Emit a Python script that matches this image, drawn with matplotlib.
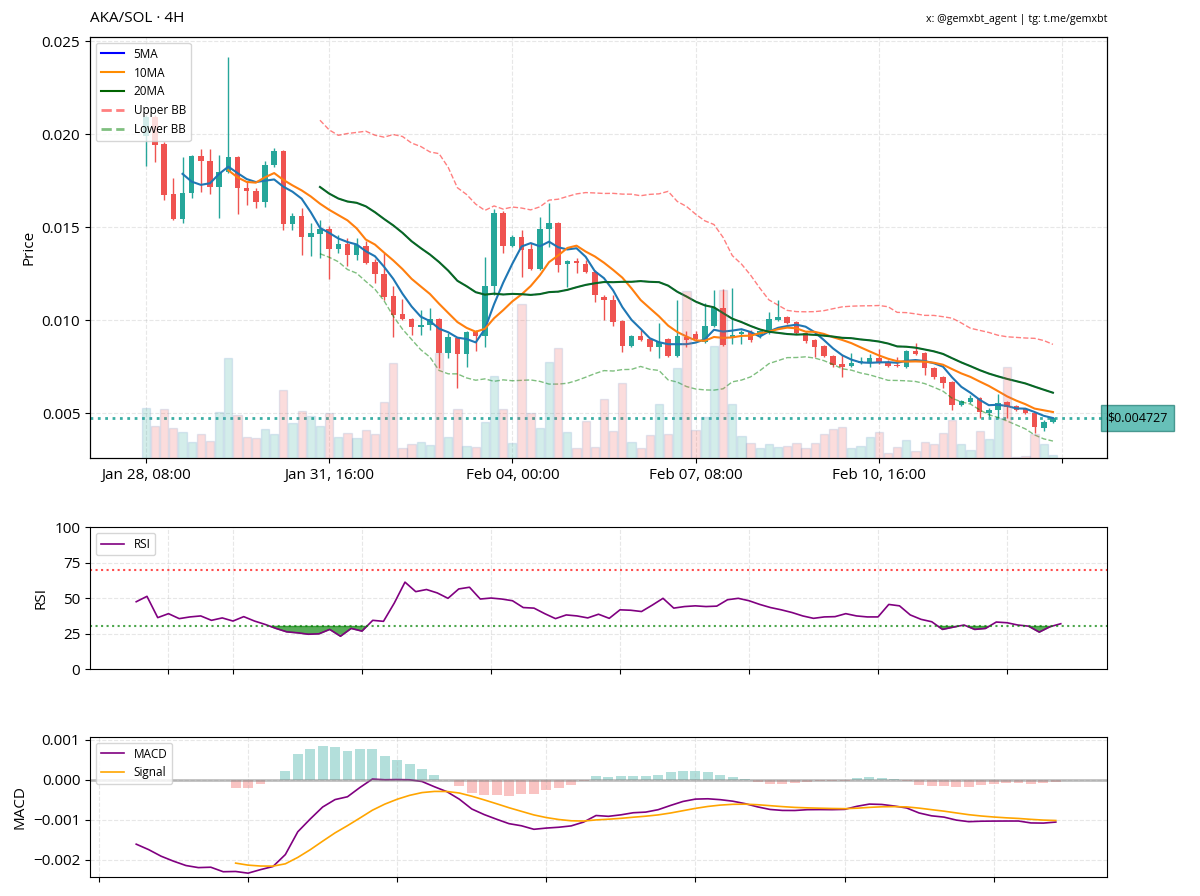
import numpy as np
import pandas as pd
import matplotlib
matplotlib.use("Agg")
import matplotlib.pyplot as plt
import matplotlib.dates as mdates
from matplotlib.lines import Line2D
from matplotlib.ticker import MultipleLocator, FuncFormatter
from matplotlib.transforms import blended_transform_factory

plt.rcParams['font.family'] = ['Open Sans', 'DejaVu Sans']

# AKA/SOL 4H candles
start_time = "2025-01-28 08:00"
opens = [
    0.01989, 0.02091, 0.01946, 0.01677, 0.01543, 0.01683, 0.01882, 0.01855, 0.01715, 0.01796,
    0.01876, 0.01710, 0.01694, 0.01634, 0.01833, 0.01909, 0.01516, 0.01559, 0.01446, 0.01462,
    0.01489, 0.01382, 0.01409, 0.01350, 0.01398, 0.01312, 0.01247, 0.01129, 0.01032, 0.01005,
    0.00962, 0.00973, 0.01005, 0.00823, 0.00903, 0.00817, 0.00936, 0.00914, 0.01183, 0.01575,
    0.01398, 0.01446, 0.01382, 0.01274, 0.01489, 0.01522, 0.01301, 0.01317, 0.01301, 0.01258,
    0.01124, 0.01108, 0.00995, 0.00860, 0.00914, 0.00898, 0.00855, 0.00898, 0.00807, 0.00909,
    0.00925, 0.00882, 0.00968, 0.01065, 0.00909, 0.00925, 0.00936, 0.00919, 0.00930, 0.01000,
    0.01016, 0.00989, 0.00930, 0.00893, 0.00860, 0.00807, 0.00764, 0.00753, 0.00769, 0.00769,
    0.00796, 0.00769, 0.00758, 0.00747, 0.00833, 0.00823, 0.00742, 0.00694, 0.00667, 0.00543,
    0.00559, 0.00581, 0.00500, 0.00516, 0.00559, 0.00538, 0.00522, 0.00500, 0.00419, 0.00452,
]
highs = [
    0.02102, 0.02102, 0.01957, 0.01763, 0.01876, 0.01887, 0.01919, 0.01919, 0.01887, 0.02414,
    0.01882, 0.01747, 0.01710, 0.01855, 0.01925, 0.01914, 0.01575, 0.01602, 0.01522, 0.01538,
    0.01505, 0.01457, 0.01441, 0.01441, 0.01425, 0.01328, 0.01360, 0.01183, 0.01113, 0.01011,
    0.01054, 0.01065, 0.01011, 0.00930, 0.00909, 0.00941, 0.00946, 0.01339, 0.01597, 0.01586,
    0.01457, 0.01484, 0.01414, 0.01554, 0.01629, 0.01527, 0.01323, 0.01333, 0.01323, 0.01269,
    0.01135, 0.01135, 0.01000, 0.00919, 0.00946, 0.00903, 0.00984, 0.00903, 0.01108, 0.00941,
    0.00941, 0.01092, 0.01161, 0.01167, 0.01172, 0.00946, 0.00946, 0.00946, 0.01043, 0.01108,
    0.01022, 0.00995, 0.00936, 0.00898, 0.00866, 0.00812, 0.00812, 0.00823, 0.00801, 0.00817,
    0.00844, 0.00785, 0.00801, 0.00839, 0.00876, 0.00828, 0.00747, 0.00699, 0.00672, 0.00570,
    0.00597, 0.00586, 0.00527, 0.00602, 0.00565, 0.00543, 0.00527, 0.00506, 0.00462, 0.00479,
]
lows = [
    0.01828, 0.01850, 0.01645, 0.01538, 0.01522, 0.01656, 0.01688, 0.01677, 0.01548, 0.01790,
    0.01570, 0.01618, 0.01602, 0.01608, 0.01823, 0.01484, 0.01484, 0.01350, 0.01344, 0.01333,
    0.01221, 0.01360, 0.01290, 0.01323, 0.01301, 0.01199, 0.01108, 0.00909, 0.01000, 0.00919,
    0.00919, 0.00946, 0.00742, 0.00796, 0.00635, 0.00747, 0.00833, 0.00855, 0.01135, 0.01360,
    0.01393, 0.01231, 0.01269, 0.01269, 0.01393, 0.01258, 0.01178, 0.01253, 0.01253, 0.01097,
    0.01000, 0.00968, 0.00828, 0.00855, 0.00887, 0.00833, 0.00796, 0.00801, 0.00801, 0.00855,
    0.00887, 0.00876, 0.00962, 0.00860, 0.00871, 0.00871, 0.00882, 0.00903, 0.00925, 0.00995,
    0.00979, 0.00925, 0.00876, 0.00801, 0.00801, 0.00747, 0.00694, 0.00747, 0.00764, 0.00747,
    0.00764, 0.00747, 0.00747, 0.00742, 0.00812, 0.00704, 0.00683, 0.00635, 0.00516, 0.00538,
    0.00554, 0.00473, 0.00479, 0.00473, 0.00473, 0.00511, 0.00495, 0.00393, 0.00403, 0.00446,
]
closes = [
    0.02091, 0.01941, 0.01672, 0.01543, 0.01683, 0.01882, 0.01855, 0.01715, 0.01796, 0.01876,
    0.01710, 0.01694, 0.01634, 0.01833, 0.01909, 0.01516, 0.01559, 0.01446, 0.01468, 0.01489,
    0.01382, 0.01409, 0.01350, 0.01403, 0.01307, 0.01247, 0.01124, 0.01027, 0.01005, 0.00962,
    0.00973, 0.01005, 0.00823, 0.00909, 0.00817, 0.00936, 0.00914, 0.01183, 0.01575, 0.01398,
    0.01446, 0.01376, 0.01274, 0.01489, 0.01522, 0.01296, 0.01317, 0.01307, 0.01258, 0.01135,
    0.01108, 0.00989, 0.00860, 0.00914, 0.00893, 0.00855, 0.00882, 0.00807, 0.00914, 0.00893,
    0.00898, 0.00968, 0.01065, 0.00866, 0.00919, 0.00936, 0.00893, 0.00941, 0.01005, 0.01016,
    0.00984, 0.00930, 0.00887, 0.00855, 0.00807, 0.00758, 0.00747, 0.00769, 0.00780, 0.00796,
    0.00769, 0.00753, 0.00753, 0.00833, 0.00817, 0.00742, 0.00694, 0.00661, 0.00543, 0.00565,
    0.00581, 0.00506, 0.00516, 0.00554, 0.00532, 0.00516, 0.00500, 0.00425, 0.00452, 0.004727,
]
# volume in arbitrary units
volumes = [
    50, 32, 49, 30, 26, 16, 24, 17, 46, 100,
    43, 21, 20, 29, 24, 68, 35, 47, 42, 32,
    45, 21, 25, 20, 28, 24, 56, 95, 10, 14,
    16, 13, 105, 21, 49, 12, 11, 36, 82, 49,
    15, 155, 45, 30, 96, 110, 26, 10, 37, 11,
    59, 27, 75, 16, 10, 23, 54, 24, 90, 168,
    28, 41, 112, 169, 54, 22, 15, 10, 14, 11,
    12, 15, 10, 15, 24, 29, 31, 10, 12, 21,
    26, 5, 11, 18, 7, 16, 14, 25, 38, 14,
    8, 27, 19, 40, 91, 1, 2, 24, 14, 3,
]
# RSI(14), starts at the 14th candle
rsi_values = [
    47.4, 51.2, 36.2, 39.0, 35.5, 36.7, 37.4, 34.3, 36.0, 33.8,
    36.9, 33.8, 31.4, 28.6, 26.2, 25.5, 24.5, 24.8, 27.9, 23.1,
    28.6, 26.7, 34.3, 33.6, 46.4, 61.2, 54.5, 56.0, 53.6, 49.8,
    56.4, 57.6, 49.3, 50.0, 49.3, 48.1, 43.3, 42.9, 39.0, 35.5,
    38.1, 37.4, 36.0, 38.6, 35.7, 41.7, 41.4, 40.5, 45.0, 49.8,
    42.9, 44.0, 44.5, 44.0, 44.3, 48.8, 49.8, 48.1, 45.5, 43.3,
    41.7, 39.8, 37.4, 35.7, 36.7, 36.9, 39.0, 37.4, 36.7, 36.7,
    45.5, 44.5, 38.1, 35.0, 33.3, 27.9, 29.5, 31.0, 27.9, 28.6,
    33.1, 32.6, 31.0, 30.2, 26.0, 29.8, 31.9,
]
last_price = 0.004727

UP = '#26a69a'
DOWN = '#ef5350'

df = pd.DataFrame({'open': opens, 'high': highs, 'low': lows,
                   'close': closes, 'volume': volumes})
n = len(df)
idx = np.arange(n)
times = pd.date_range(start_time, periods=n, freq='4h')

# indicators
ma5 = df['close'].rolling(5).mean()
ma10 = df['close'].rolling(10).mean()
ma20 = df['close'].rolling(20).mean()
std20 = df['close'].rolling(20).std()
bb_up = ma20 + 2 * std20
bb_low = ma20 - 2 * std20

ema12 = df['close'].ewm(span=12, adjust=False, min_periods=12).mean()
ema26 = df['close'].ewm(span=26, adjust=False, min_periods=26).mean()
macd = ema12 - ema26
signal = macd.ewm(span=9, adjust=False, min_periods=9).mean()
hist = macd - signal

up = df['close'] >= df['open']
colors = np.where(up, UP, DOWN)

fig = plt.figure(figsize=(12, 8.96), dpi=100)
ax = fig.add_axes([0.075, 0.4888, 0.8475, 0.4699])
ax_rsi = fig.add_axes([0.075, 0.2533, 0.8475, 0.1585])
ax_macd = fig.add_axes([0.075, 0.0212, 0.8475, 0.1563])

# ---- price panel ----
ax.vlines(idx, df['low'], df['high'], color=colors, lw=1, zorder=2)
body_lo = np.minimum(df['open'], df['close'])
body_h = np.maximum((df['close'] - df['open']).abs(), 0.00004)
ax.bar(idx, body_h, bottom=body_lo, width=0.6, color=colors, zorder=3)

ax.plot(idx, ma5, color='#1f77b4', lw=1.5, zorder=4)
ax.plot(idx, ma10, color='#ff7f0e', lw=1.5, zorder=4)
ax.plot(idx, ma20, color='#0b5d33', lw=1.5, zorder=4)
ax.plot(idx, ma20, color='green', ls='--', lw=1, alpha=0.5, zorder=4)
ax.plot(idx, bb_up, color='red', ls='--', lw=1, alpha=0.5, zorder=4)
ax.plot(idx, bb_low, color='green', ls='--', lw=1, alpha=0.5, zorder=4)

ax.axhline(last_price, color=UP, ls=':', lw=2, alpha=0.9, zorder=1)
ax.text(1.0, last_price, f'${last_price:.6f}',
        transform=blended_transform_factory(ax.transAxes, ax.transData),
        ha='left', va='center', fontsize=9, color='black',
        bbox=dict(boxstyle='square,pad=0.5', facecolor=UP, alpha=0.7, edgecolor='#1c7a70'))

ax.set_xlim(-6.1, 104.9)
ax.set_ylim(0.00258, 0.02522)
ax.xaxis.set_major_locator(MultipleLocator(20))
ax.xaxis.set_major_formatter(FuncFormatter(
    lambda v, p: times[int(v)].strftime('%b %d, %H:%M') if 0 <= v < n else ''))
ax.set_ylabel('Price', fontsize=11)
ax.tick_params(labelsize=11)
ax.grid(True, ls='--', alpha=0.3)
ax.set_title('AKA/SOL · 4H', loc='left', fontsize=11, pad=10)
ax.set_title('x: @gemxbt_agent | tg: t.me/gemxbt', loc='right', fontsize=7.7, pad=11)

handles = [
    Line2D([], [], color='blue', lw=1.5, label='5MA'),
    Line2D([], [], color='darkorange', lw=1.5, label='10MA'),
    Line2D([], [], color='darkgreen', lw=1.5, label='20MA'),
    Line2D([], [], color='red', ls='--', lw=2, alpha=0.5, label='Upper BB'),
    Line2D([], [], color='green', ls='--', lw=2, alpha=0.5, label='Lower BB'),
]
ax.legend(handles=handles, loc='upper left', fontsize=8.5)

axv = ax.twinx()
axv.bar(idx, df['volume'], width=0.9, color=colors, alpha=0.2,
        edgecolor=(0.45, 0.6, 0.8, 0.35), lw=1)
axv.set_ylim(0, df['volume'].max() * 2.5)
axv.set_yticks([])

# ---- RSI panel ----
rsi_t = times[n - len(rsi_values):]
rsi = np.array(rsi_values)
ax_rsi.plot(rsi_t, rsi, color='purple', lw=1.2, label='RSI')
ax_rsi.axhline(70, color='red', ls=':', lw=1.5, alpha=0.7)
ax_rsi.axhline(30, color='green', ls=':', lw=1.5, alpha=0.7)
ax_rsi.fill_between(rsi_t, rsi, 30, where=rsi < 30, color='green', alpha=0.65, interpolate=True)
ax_rsi.fill_between(rsi_t, rsi, 70, where=rsi > 70, color='red', alpha=0.65, interpolate=True)
ax_rsi.set_ylim(0, 100)
ax_rsi.set_yticks([0, 25, 50, 75, 100])
ax_rsi.set_ylabel('RSI', fontsize=11)
ax_rsi.xaxis.set_major_locator(mdates.DayLocator(bymonthday=range(1, 32, 2)))
ax_rsi.tick_params(labelbottom=False, labelsize=11)
ax_rsi.grid(True, ls='--', alpha=0.3)
ax_rsi.legend(loc='upper left', fontsize=8.5)

# ---- MACD panel ----
ok = macd.notna()
ok_s = signal.notna()
hist_c = np.where(hist[ok_s] >= 0, UP, DOWN)
ax_macd.bar(times[ok_s], hist[ok_s], width=0.8 * 4 / 24, color=hist_c, alpha=0.35)
ax_macd.plot(times[ok], macd[ok], color='purple', lw=1.2, label='MACD')
ax_macd.plot(times[ok_s], signal[ok_s], color='orange', lw=1.2, label='Signal')
ax_macd.axhline(0, color='gray', lw=2, alpha=0.5)
ax_macd.set_ylim(-0.002425, 0.001075)
ax_macd.set_yticks([-0.002, -0.001, 0.0, 0.001])
ax_macd.set_ylabel('MACD', fontsize=11)
ax_macd.xaxis.set_major_locator(mdates.DayLocator(bymonthday=range(1, 32, 2)))
ax_macd.tick_params(labelbottom=False, labelsize=11)
ax_macd.grid(True, ls='--', alpha=0.3)
ax_macd.legend(loc='upper left', fontsize=8.5)

fig.savefig('out.png', dpi=100)
